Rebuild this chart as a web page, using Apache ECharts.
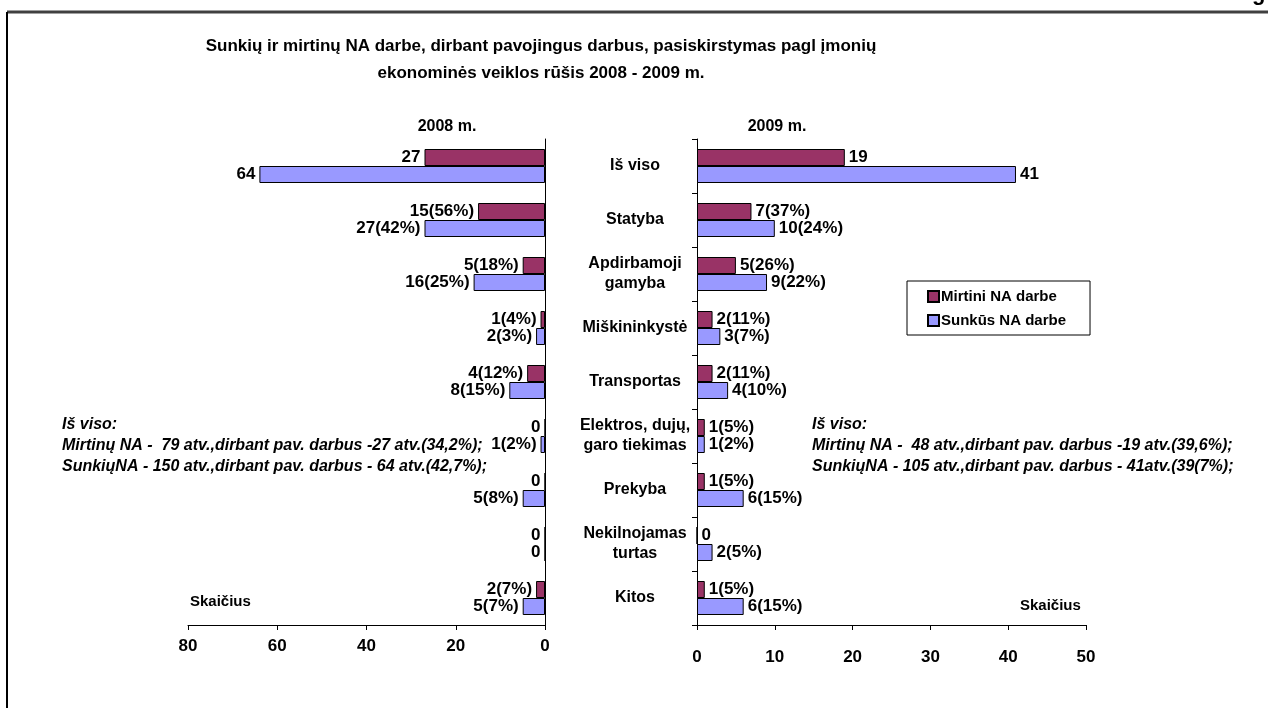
<!DOCTYPE html>
<html>
<head>
<meta charset="utf-8">
<script src="https://cdn.jsdelivr.net/npm/echarts@6/dist/echarts.min.js"></script>
<style>
  html, body { margin: 0; padding: 0; background: #fff; }
  #chart { width: 1268px; height: 708px; }
</style>
</head>
<body>
<div id="chart"></div>
<script>
// kategorijos
var categories = ['Iš viso', 'Statyba', 'Apdirbamoji\ngamyba', 'Miškininkystė', 'Transportas',
  'Elektros, dujų,\ngaro tiekimas', 'Prekyba', 'Nekilnojamas\nturtas', 'Kitos'];

// 2008 m.
var mirtini2008 = [27, 15, 5, 1, 4, 0, 0, 0, 2];
var mirtini2008Pct = ['', '56%', '18%', '4%', '12%', '', '', '', '7%'];
var sunkus2008 = [64, 27, 16, 2, 8, 1, 5, 0, 5];
var sunkus2008Pct = ['', '42%', '25%', '3%', '15%', '2%', '8%', '', '7%'];

// 2009 m.
var mirtini2009 = [19, 7, 5, 2, 2, 1, 1, 0, 1];
var mirtini2009Pct = ['', '37%', '26%', '11%', '11%', '5%', '5%', '', '5%'];
var sunkus2009 = [41, 10, 9, 3, 4, 1, 6, 2, 6];
var sunkus2009Pct = ['', '24%', '22%', '7%', '10%', '2%', '15%', '5%', '15%'];

var ticks2008 = [0, 80, 20];
var ticks2009 = [0, 50, 10];

var FONT = '"Liberation Sans", Arial, sans-serif';
var MAROON = '#993366', BLUE = '#9999ff';

function fmt(pct) {
  return function (p) {
    return p.value + (pct[p.dataIndex] ? '(' + pct[p.dataIndex] + ')' : '');
  };
}

function barSeries(name, data, pct, color, idx, pos) {
  return {
    name: name,
    type: 'bar',
    xAxisIndex: idx,
    yAxisIndex: idx,
    data: data,
    barWidth: 17,
    barGap: '0%',
    itemStyle: { color: color, borderColor: '#000', borderWidth: 1 },
    label: {
      show: true,
      position: pos,
      distance: 4,
      formatter: fmt(pct),
      fontFamily: FONT,
      fontWeight: 'bold',
      fontSize: 17,
      color: '#000'
    }
  };
}

var myChart = echarts.init(document.getElementById('chart'));

function txt(x, y, s, opt) {
  opt = opt || {};
  return {
    type: 'text', x: x, y: y,
    style: {
      text: s,
      font: (opt.italic ? 'italic ' : '') + 'bold ' + (opt.size || 13) + 'px ' + FONT,
      fill: '#000',
      textAlign: opt.align || 'left',
      textVerticalAlign: 'middle'
    }
  };
}

var option = {
  animation: false,
  backgroundColor: '#fff',
  grid: [
    { left: 188, width: 357, top: 139, height: 486 },
    { left: 697, width: 389, top: 139, height: 486 }
  ],
  xAxis: [
    {
      gridIndex: 0, type: 'value', inverse: true,
      min: ticks2008[0], max: ticks2008[1], interval: ticks2008[2],
      axisLine: { show: true, lineStyle: { color: '#000', width: 1 } },
      axisTick: { show: true, length: 5, lineStyle: { color: '#000' } },
      splitLine: { show: false },
      axisLabel: { margin: 13, fontFamily: FONT, fontWeight: 'bold', fontSize: 17, color: '#000' }
    },
    {
      gridIndex: 1, type: 'value',
      min: ticks2009[0], max: ticks2009[1], interval: ticks2009[2],
      axisLine: { show: true, lineStyle: { color: '#000', width: 1 } },
      axisTick: { show: true, length: 5, lineStyle: { color: '#000' } },
      splitLine: { show: false },
      axisLabel: { margin: 24, fontFamily: FONT, fontWeight: 'bold', fontSize: 17, color: '#000' }
    }
  ],
  yAxis: [
    {
      gridIndex: 0, type: 'category', inverse: true, position: 'right',
      data: categories,
      axisLine: { show: true, lineStyle: { color: '#000', width: 1 } },
      axisTick: { show: false },
      axisLabel: { show: false }
    },
    {
      gridIndex: 1, type: 'category', inverse: true,
      data: categories,
      axisLine: { show: true, lineStyle: { color: '#000', width: 1 } },
      axisTick: { show: true, length: 5, lineStyle: { color: '#000' } },
      axisLabel: {
        margin: 62, align: 'center', lineHeight: 20,
        fontFamily: FONT, fontWeight: 'bold', fontSize: 16, color: '#000'
      }
    }
  ],
  legend: {
    data: ['Mirtini NA darbe', 'Sunkūs NA darbe'],
    orient: 'vertical',
    left: 907, top: 281,
    padding: [8, 24, 7, 20],
    itemGap: 9,
    itemWidth: 11, itemHeight: 11,
    icon: 'rect',
    borderColor: '#000', borderWidth: 1,
    textStyle: { fontFamily: FONT, fontWeight: 'bold', fontSize: 15, color: '#000', padding: [0, 0, 0, -3] }
  },
  series: [
    barSeries('Mirtini NA darbe', mirtini2008, mirtini2008Pct, MAROON, 0, 'left'),
    barSeries('Sunkūs NA darbe', sunkus2008, sunkus2008Pct, BLUE, 0, 'left'),
    barSeries('Mirtini NA darbe', mirtini2009, mirtini2009Pct, MAROON, 1, 'right'),
    barSeries('Sunkūs NA darbe', sunkus2009, sunkus2009Pct, BLUE, 1, 'right')
  ],
  graphic: [
    { type: 'line', shape: { x1: 7, y1: 12, x2: 1268, y2: 12 }, style: { stroke: '#404040', lineWidth: 3 } },
    { type: 'line', shape: { x1: 7, y1: 12, x2: 7, y2: 708 }, style: { stroke: '#000', lineWidth: 2 } },
    txt(1252, -6, 'g', { size: 22 }),
    txt(541, 46, 'Sunkių ir mirtinų NA darbe, dirbant pavojingus darbus, pasiskirstymas pagl įmonių', { size: 17, align: 'center' }),
    txt(541, 73, 'ekonominės veiklos rūšis 2008 - 2009 m.', { size: 17, align: 'center' }),
    txt(447, 127, '2008 m.', { size: 16, align: 'center' }),
    txt(777, 127, '2009 m.', { size: 16, align: 'center' }),
    txt(62, 425, 'Iš viso:', { italic: true, size: 16 }),
    txt(62, 446, 'Mirtinų NA -  79 atv.,dirbant pav. darbus -27 atv.(34,2%);', { italic: true, size: 16 }),
    txt(62, 467, 'SunkiųNA - 150 atv.,dirbant pav. darbus - 64 atv.(42,7%);', { italic: true, size: 16 }),
    txt(812, 425, 'Iš viso:', { italic: true, size: 16 }),
    txt(812, 446, 'Mirtinų NA -  48 atv.,dirbant pav. darbus -19 atv.(39,6%);', { italic: true, size: 16 }),
    txt(812, 467, 'SunkiųNA - 105 atv.,dirbant pav. darbus - 41atv.(39(7%);', { italic: true, size: 16 }),
    txt(190, 602, 'Skaičius', { size: 15 }),
    txt(1020, 606, 'Skaičius', { size: 15 })
  ]
};

myChart.setOption(option);
</script>
</body>
</html>
